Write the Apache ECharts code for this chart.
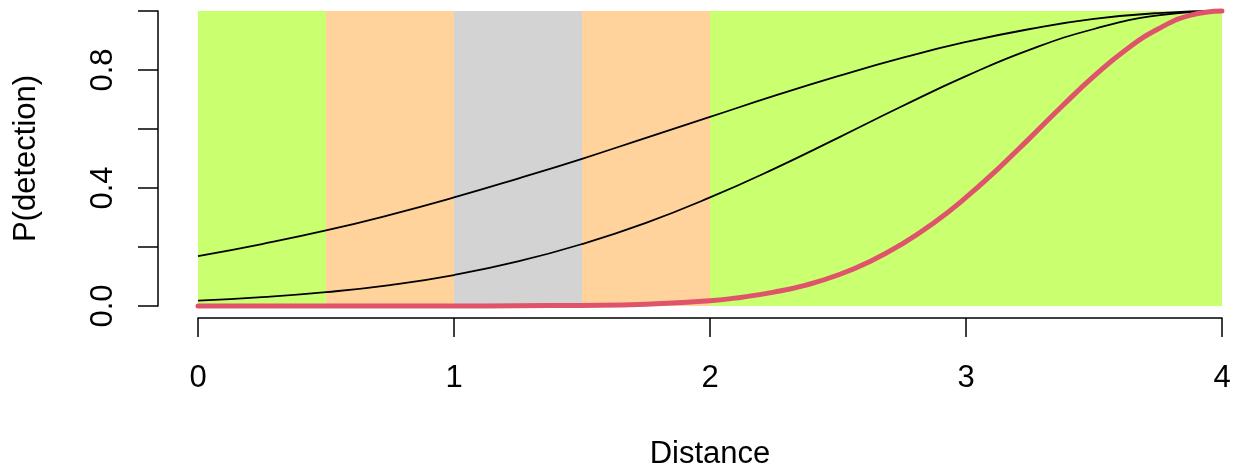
<!DOCTYPE html>
<html>
<head>
<meta charset="utf-8">
<script src="https://cdn.jsdelivr.net/npm/echarts@6/dist/echarts.min.js"></script>
<style>
html,body{margin:0;padding:0;background:#fff;}
#chart{width:1243px;height:470px;}
</style>
</head>
<body>
<div id="chart"></div>
<script>
// ---- data ----
const xTicks = [0, 1, 2, 3, 4];
const yTickLabels = ['0.0', '0.4', '0.8'];
const zoneBreaks = [0, 0.5, 1, 1.5, 2, 4];
const zoneKinds = ['far', 'mid', 'core', 'mid', 'far'];

const curveX = [0, 0.25, 0.5, 0.75, 1, 1.25, 1.5, 1.75, 2, 2.25, 2.5, 2.75, 3, 3.25, 3.5, 3.75, 4];
const curveWide = [0.169, 0.210, 0.256, 0.309, 0.368, 0.432, 0.499, 0.570, 0.641, 0.712, 0.779, 0.841, 0.895, 0.939, 0.973, 0.993, 1.000];
const curveMid = [0.018, 0.030, 0.047, 0.071, 0.105, 0.151, 0.210, 0.282, 0.368, 0.465, 0.570, 0.677, 0.779, 0.869, 0.939, 0.985, 1.000];

const redX = [0, 0.5, 1, 1.25, 1.5, 1.75, 2, 2.125, 2.25, 2.375, 2.5, 2.625, 2.75, 2.875, 3, 3.125, 3.25, 3.375, 3.5, 3.625, 3.75, 3.875, 4];
const redY = [0.000, 0.000, 0.000, 0.001, 0.002, 0.006, 0.018, 0.030, 0.047, 0.071, 0.105, 0.151, 0.210, 0.282, 0.368, 0.465, 0.570, 0.677, 0.779, 0.869, 0.939, 0.985, 1.000];

// ---- styles ----
const zoneColors = { far: '#CAFF70', mid: '#FFD39B', core: '#D3D3D3' };
const FONT = '"Liberation Sans", Arial, Helvetica, sans-serif';
const FS = 31;

const bands = zoneKinds.map((k, i) => [
  { xAxis: zoneBreaks[i], yAxis: 0, itemStyle: { color: zoneColors[k] } },
  { xAxis: zoneBreaks[i + 1], yAxis: 1 }
]);

const zip = (xs, ys) => xs.map((x, i) => [x, ys[i]]);

const chart = echarts.init(document.getElementById('chart'), null, { renderer: 'canvas' });
chart.setOption({
  animation: false,
  backgroundColor: '#ffffff',
  textStyle: { fontFamily: FONT },
  grid: { left: 198, right: 21, top: 11, height: 295, containLabel: false, outerBoundsMode: 'none' },
  xAxis: {
    type: 'value', min: 0, max: 4, interval: 1,
    offset: 12,
    name: 'Distance', nameLocation: 'middle', nameGap: 121,
    nameTextStyle: { fontFamily: FONT, fontSize: FS, color: '#000' },
    axisLine: { show: true, onZero: false, lineStyle: { color: '#000', width: 1.5 } },
    axisTick: { show: true, length: 19, lineStyle: { color: '#000', width: 1.5 } },
    axisLabel: { fontFamily: FONT, fontSize: FS, color: '#000', margin: 45 },
    splitLine: { show: false }
  },
  yAxis: {
    type: 'value', min: 0, max: 1, interval: 0.2,
    offset: 40,
    name: 'P(detection)', nameLocation: 'middle', nameGap: 116, nameRotate: 90,
    nameTextStyle: { fontFamily: FONT, fontSize: FS, color: '#000' },
    axisLine: { show: true, onZero: false, lineStyle: { color: '#000', width: 1.5 } },
    axisTick: { show: true, length: 20, lineStyle: { color: '#000', width: 1.5 } },
    axisLabel: {
      fontFamily: FONT, fontSize: FS, color: '#000', margin: 39, rotate: 90,
      formatter: v => { const s = v.toFixed(1); return yTickLabels.includes(s) ? s : ''; }
    },
    splitLine: { show: false }
  },
  series: [
    {
      type: 'line', data: [], z: 1, silent: true,
      markArea: { silent: true, data: bands, itemStyle: { opacity: 1 } }
    },
    {
      type: 'line', data: zip(curveX, curveWide), smooth: true, symbol: 'none', z: 3, clip: false,
      lineStyle: { color: '#000', width: 1.8 }
    },
    {
      type: 'line', data: zip(curveX, curveMid), smooth: true, symbol: 'none', z: 3, clip: false,
      lineStyle: { color: '#000', width: 1.8 }
    },
    {
      type: 'line', data: zip(redX, redY), smooth: true, symbol: 'none', z: 4, clip: false,
      lineStyle: { color: '#DF536B', width: 5, cap: 'round', join: 'round' }
    }
  ]
});
</script>
</body>
</html>
